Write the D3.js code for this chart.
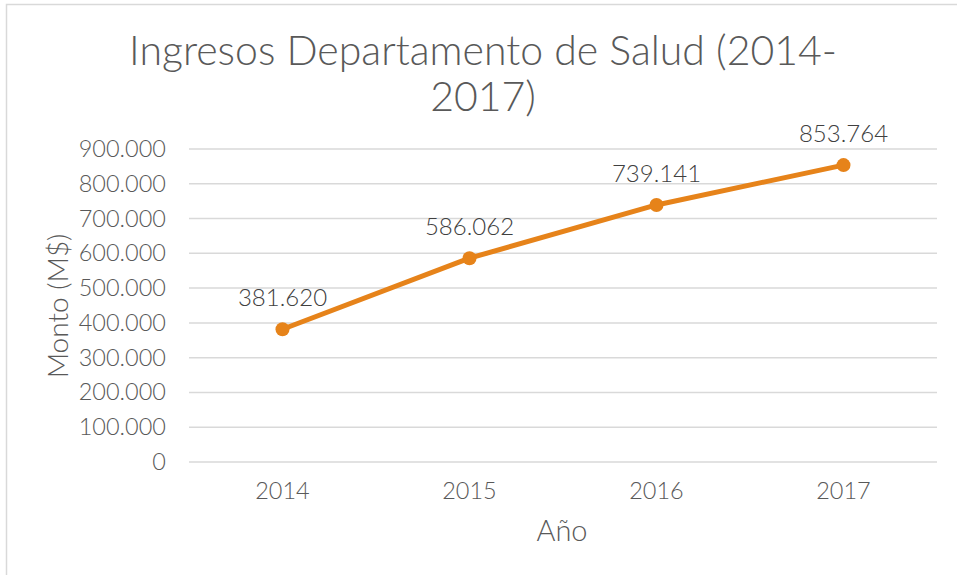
<!DOCTYPE html>
<html>
<head>
<meta charset="utf-8">
<script src="https://cdn.jsdelivr.net/npm/d3@7"></script>
<style>
  html, body { margin: 0; padding: 0; background: #ffffff; }
  svg { display: block; }
  text { font-family: Lato, "Open Sans", sans-serif; font-weight: 300; }
</style>
</head>
<body>
<svg id="chart" width="957" height="575"></svg>
<script>
const titleLines = ["Ingresos Departamento de Salud (2014-", "2017)"];
const years = ["2014", "2015", "2016", "2017"];
const values = [381620, 586062, 739141, 853764];
const yTicks = [0, 100000, 200000, 300000, 400000, 500000, 600000, 700000, 800000, 900000];
const yAxisTitle = "Monto (M$)";
const xAxisTitle = "Año";

const fmt = v => v === 0 ? "0" : d3.format(",")(v).replace(/,/g, ".");

const svg = d3.select("#chart");
const W = 957, H = 575;
const plot = { left: 189, right: 937, top: 149, bottom: 462 };
const FONT = "Lato, 'Open Sans', sans-serif";

// chart border (top and left visible)
svg.append("rect")
  .attr("x", 6.5).attr("y", 4.5)
  .attr("width", W + 20).attr("height", H + 20)
  .attr("fill", "#ffffff").attr("stroke", "#d9d9d9").attr("stroke-width", 1.5);

const x = d3.scaleBand().domain(years).range([plot.left, plot.right]).padding(0);
const y = d3.scaleLinear().domain([0, 900000]).range([plot.bottom, plot.top]);

// gridlines
svg.append("g").selectAll("line").data(yTicks).join("line")
  .attr("x1", plot.left).attr("x2", plot.right)
  .attr("y1", d => y(d)).attr("y2", d => y(d))
  .attr("stroke", "#d9d9d9").attr("stroke-width", 1.5);

// y axis labels
const yAxis = d3.axisLeft(y).tickValues(yTicks).tickFormat(fmt).tickSize(0).tickPadding(0);
const gy = svg.append("g").attr("transform", "translate(166,0)").call(yAxis);
gy.select(".domain").remove();
gy.selectAll("text").attr("fill", "#595959").attr("font-size", 23.5)
  .attr("font-family", FONT).attr("font-weight", 300);

// x axis labels
const xAxis = d3.axisBottom(x).tickSize(0).tickPadding(0);
const gx = svg.append("g").attr("transform", "translate(0,482)").call(xAxis);
gx.select(".domain").remove();
gx.selectAll("text").attr("fill", "#595959").attr("font-size", 23.5)
  .attr("font-family", FONT).attr("font-weight", 300).attr("dy", "0.71em");

// line
const pts = years.map((yr, i) => ({ yr, v: values[i] }));
const line = d3.line().x(d => x(d.yr) + x.bandwidth() / 2).y(d => y(d.v));
svg.append("path").datum(pts)
  .attr("d", line).attr("fill", "none")
  .attr("stroke", "#E6831A").attr("stroke-width", 5).attr("stroke-linejoin", "round");

svg.append("g").selectAll("circle").data(pts).join("circle")
  .attr("cx", d => x(d.yr) + x.bandwidth() / 2).attr("cy", d => y(d.v))
  .attr("r", 7).attr("fill", "#E6831A");

// data labels
svg.append("g").selectAll("text").data(pts).join("text")
  .attr("x", d => x(d.yr) + x.bandwidth() / 2).attr("y", d => y(d.v) - 23)
  .attr("text-anchor", "middle").attr("fill", "#404040").attr("font-size", 24)
  .text(d => fmt(d.v));

// title
svg.append("g").selectAll("text").data(titleLines).join("text")
  .attr("x", 483).attr("y", (d, i) => 65 + i * 46)
  .attr("text-anchor", "middle").attr("fill", "#595959")
  .attr("font-size", 41)
  .text(d => d);

// axis titles
svg.append("text")
  .attr("transform", "translate(68,306) rotate(-90)")
  .attr("text-anchor", "middle").attr("fill", "#595959").attr("font-size", 28)
  .text(yAxisTitle);

svg.append("text")
  .attr("x", 562).attr("y", 541)
  .attr("text-anchor", "middle").attr("fill", "#595959").attr("font-size", 29)
  .text(xAxisTitle);
</script>
</body>
</html>
